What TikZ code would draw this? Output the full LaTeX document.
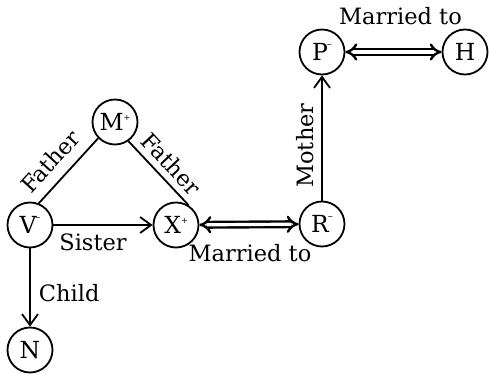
\documentclass[tikz,border=0pt]{standalone}
\usepackage{fontspec}
\setmainfont{DejaVu Serif}
\usetikzlibrary{arrows.meta}
\newcommand\plusmk{\raisebox{10.5pt}{\fontsize{8}{8}\selectfont +}}
\newcommand\minusmk{\kern-1pt\raisebox{13pt}{\fontsize{10}{10}\selectfont –}}
\begin{document}
\begin{tikzpicture}[x=1pt,y=-1pt,
  every node/.style={font=\fontsize{22.5}{26}\selectfont},
  person/.style={draw, circle, line width=1.8pt, minimum size=45pt, inner sep=0pt, font=\fontsize{23.5}{26}\selectfont},
  rel/.style={line width=1.8pt},
  relarrow/.style={line width=1.8pt, -{Straight Barb[length=11pt,width=16pt,line width=1.8pt]}},
  married/.style={line width=2.4pt, double, double distance=3.2pt, {Implies[length=7pt,width=17pt]}-{Implies[length=7pt,width=17pt]}},
  lab/.style={inner sep=0pt}]
\useasboundingbox (0,0) rectangle (489,374);
\node[person] (M) at (115,122) {M\plusmk};
\node[person] (V) at (30,225) {V\minusmk};
\node[person] (X) at (176,225) {X\plusmk};
\node[person] (R) at (322,224) {R\minusmk};
\node[person] (P) at (322,52) {P\minusmk};
\node[person] (H) at (465,52) {H};
\node[person] (N) at (30,350) {N};
\draw[rel] (V.68) -- node[lab, sloped, above=10pt, pos=0.44] {Father} (M.224);
\draw[rel] (M.305) -- node[lab, sloped, above=6pt, pos=0.52] {Father} (X.57);
\draw[relarrow] (V) -- node[lab, anchor=base, xshift=-10pt, yshift=-25pt] {Sister} (X);
\draw[married] (X) -- node[lab, anchor=base, xshift=1pt, yshift=-37pt] {Married to} (R);
\draw[relarrow] (R) -- node[lab, sloped, above=7pt, pos=0.44] {Mother} (P);
\draw[married] (P) -- node[lab, anchor=base, xshift=7pt, yshift=27pt] {Married to} (H);
\draw[relarrow] (V) -- node[lab, anchor=base west, xshift=8pt, yshift=-14pt] {Child} (N);
\end{tikzpicture}
\end{document}
